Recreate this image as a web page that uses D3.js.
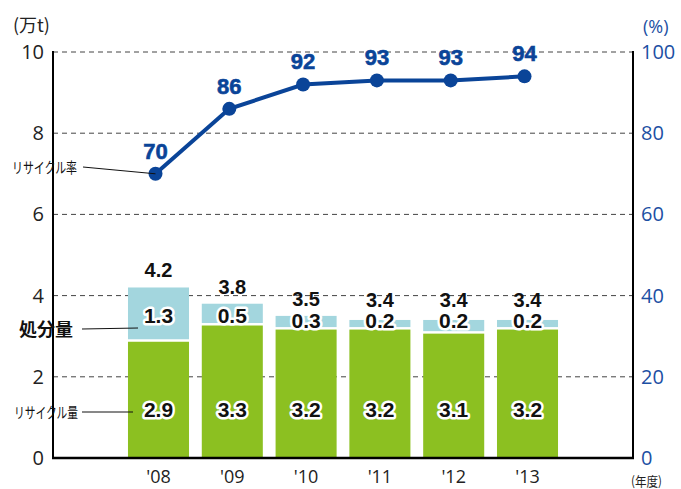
<!DOCTYPE html>
<html lang="ja">
<head>
    <meta charset="UTF-8">
    <title>リサイクル量・処分量・リサイクル率</title>
    <style>
        body { margin: 0; background: #fff; }
        #chart { display: block; }
        .tick-l { font-family: "Open Sans", "Noto Sans", sans-serif; font-size: 20px; fill: #222; }
        .tick-r { font-family: "Open Sans", "Noto Sans", sans-serif; font-size: 20px; fill: #1c4fa3; }
        .val { font-family: "Liberation Sans", Arial, sans-serif; font-weight: bold; font-size: 21px; }
        .jp { font-family: "Noto Sans CJK JP", sans-serif; }
    </style>
</head>
<body>
    <svg id="chart" width="681" height="489"></svg>
    <script src="https://d3js.org/d3.v7.min.js"></script>
    <script>
        // data
        const years = ["'08", "'09", "'10", "'11", "'12", "'13"];
        const recycled = [2.9, 3.3, 3.2, 3.2, 3.1, 3.2];     // リサイクル量 (万t)
        const disposed = [1.3, 0.5, 0.3, 0.2, 0.2, 0.2];     // 処分量 (万t)
        const totals = [4.2, 3.8, 3.5, 3.4, 3.4, 3.4];
        const rate = [70, 86, 92, 93, 93, 94];               // リサイクル率 (%)
        const leftTicks = [0, 2, 4, 6, 8, 10];
        const rightTicks = [0, 20, 40, 60, 80, 100];

        const svg = d3.select("#chart");
        const x0 = 53, x1 = 633, yTop = 52, yBot = 458;

        const x = d3.scaleBand().domain(years).range([x0, x1])
            .paddingInner(0.173).paddingOuter(1.016);
        const y = d3.scaleLinear().domain([0, 10]).range([yBot, yTop]);
        const yr = d3.scaleLinear().domain([0, 100]).range([yBot, yTop]);

        const green = "#8cc021", lightBlue = "#a3d6de", lineBlue = "#0a4498";

        // dashed gridlines
        svg.append("g").selectAll("line")
            .data(leftTicks.filter(d => d > 0))
            .join("line")
            .attr("x1", x0).attr("x2", x1)
            .attr("y1", d => y(d)).attr("y2", d => y(d))
            .attr("stroke", "#444").attr("stroke-width", 1)
            .attr("stroke-dasharray", "5,4");

        // bars
        const bars = svg.append("g");
        bars.selectAll(".disp")
            .data(years)
            .join("rect")
            .attr("x", d => x(d))
            .attr("width", x.bandwidth())
            .attr("y", (d, i) => y(totals[i]))
            .attr("height", (d, i) => y(recycled[i]) - y(totals[i]) - 1)
            .attr("fill", lightBlue);
        bars.selectAll(".rec")
            .data(years)
            .join("rect")
            .attr("x", d => x(d))
            .attr("width", x.bandwidth())
            .attr("y", (d, i) => y(recycled[i]) + 1.5)
            .attr("height", (d, i) => yBot - y(recycled[i]) - 1.5)
            .attr("fill", green);

        // axes
        svg.append("line").attr("x1", x0).attr("x2", x0).attr("y1", yTop - 1).attr("y2", yBot + 1)
            .attr("stroke", "#000").attr("stroke-width", 2);
        svg.append("line").attr("x1", x1).attr("x2", x1).attr("y1", yTop - 1).attr("y2", yBot + 1)
            .attr("stroke", "#000").attr("stroke-width", 2);
        svg.append("line").attr("x1", x0 - 1).attr("x2", x1 + 1).attr("y1", yBot).attr("y2", yBot)
            .attr("stroke", "#000").attr("stroke-width", 2.5);

        svg.append("g").selectAll("text")
            .data(leftTicks)
            .join("text")
            .attr("class", "tick-l")
            .attr("x", 44).attr("y", d => y(d) + 7)
            .attr("text-anchor", "end")
            .text(d => d);
        svg.append("g").selectAll("text")
            .data(rightTicks)
            .join("text")
            .attr("class", "tick-r")
            .attr("x", 641).attr("y", d => yr(d) + 7)
            .text(d => d);

        svg.append("g").selectAll("text")
            .data(years)
            .join("text")
            .attr("x", d => x(d) + x.bandwidth() / 2)
            .attr("y", 483)
            .attr("text-anchor", "middle")
            .attr("font-family", "Open Sans, Noto Sans, sans-serif")
            .attr("font-size", 18).attr("fill", "#222")
            .text(d => d);

        // unit labels
        svg.append("text").attr("class", "jp").attr("x", 13).attr("y", 32)
            .attr("font-size", 18).attr("fill", "#222").text("(万t)");
        svg.append("text").attr("x", 643).attr("y", 33)
            .attr("font-family", "Open Sans, sans-serif").attr("font-size", 18)
            .attr("fill", "#1c4fa3").text("(%)");
        svg.append("text").attr("class", "jp").attr("x", 631).attr("y", 486)
            .attr("font-size", 13).attr("fill", "#222")
            .attr("textLength", 31).attr("lengthAdjust", "spacingAndGlyphs").text("(年度)");

        // bar value labels
        const cx = d => x(d) + x.bandwidth() / 2;
        const dispMid = i => Math.min((y(totals[i]) + y(recycled[i])) / 2 + 1, 320);
        const labels = svg.append("g").attr("class", "val").attr("text-anchor", "middle");

        labels.selectAll(".rl")
            .data(years)
            .join("text")
            .attr("x", cx).attr("y", y(1.2) + 8)
            .attr("fill", "#111").attr("stroke", "#fff").attr("stroke-width", 5)
            .attr("paint-order", "stroke").attr("stroke-linejoin", "round")
            .text((d, i) => recycled[i].toFixed(1));
        labels.selectAll(".dl")
            .data(years)
            .join("text")
            .attr("x", cx).attr("y", (d, i) => dispMid(i) + 8)
            .attr("fill", "#111").attr("stroke", "#fff").attr("stroke-width", 5)
            .attr("paint-order", "stroke").attr("stroke-linejoin", "round")
            .text((d, i) => disposed[i].toFixed(1));
        labels.selectAll(".tl")
            .data(years)
            .join("text")
            .attr("x", cx)
            .attr("y", (d, i) => Math.min(y(totals[i]) - 17, dispMid(i) - 20) + 7)
            .attr("font-size", 20)
            .attr("fill", "#111")
            .text((d, i) => totals[i].toFixed(1));

        // recycling rate line
        const px = d => cx(d) - 3;
        svg.append("path")
            .datum(years)
            .attr("fill", "none").attr("stroke", lineBlue).attr("stroke-width", 4)
            .attr("d", d3.line().x(px).y((d, i) => yr(rate[i])));
        svg.append("g").selectAll("circle")
            .data(years)
            .join("circle")
            .attr("cx", px).attr("cy", (d, i) => yr(rate[i]))
            .attr("r", 7).attr("fill", lineBlue);
        svg.append("g").attr("class", "val").attr("text-anchor", "middle")
            .selectAll("text")
            .data(years)
            .join("text")
            .attr("x", px).attr("y", (d, i) => yr(rate[i]) - 15)
            .attr("font-size", 22).attr("fill", lineBlue)
            .attr("stroke", lineBlue).attr("stroke-width", 0.6)
            .text((d, i) => rate[i]);

        // annotations
        const ann = svg.append("g");
        ann.append("text").attr("class", "jp").attr("x", 12).attr("y", 173)
            .attr("font-size", 15).attr("fill", "#111")
            .attr("textLength", 65).attr("lengthAdjust", "spacingAndGlyphs").text("リサイクル率");
        ann.append("line").attr("x1", 83).attr("y1", 167).attr("x2", px(years[0])).attr("y2", yr(rate[0]))
            .attr("stroke", "#111").attr("stroke-width", 1);

        ann.append("text").attr("class", "jp").attr("x", 19).attr("y", 336)
            .attr("font-size", 18).attr("font-weight", "bold").attr("fill", "#111").text("処分量");
        ann.append("line").attr("x1", 82).attr("y1", 329).attr("x2", 138).attr("y2", 328)
            .attr("stroke", "#111").attr("stroke-width", 1);

        ann.append("text").attr("class", "jp").attr("x", 14).attr("y", 418)
            .attr("font-size", 15).attr("fill", "#111")
            .attr("textLength", 64).attr("lengthAdjust", "spacingAndGlyphs").text("リサイクル量");
        ann.append("line").attr("x1", 82).attr("y1", 412).attr("x2", 133).attr("y2", 412)
            .attr("stroke", "#111").attr("stroke-width", 1);
    </script>
</body>
</html>
